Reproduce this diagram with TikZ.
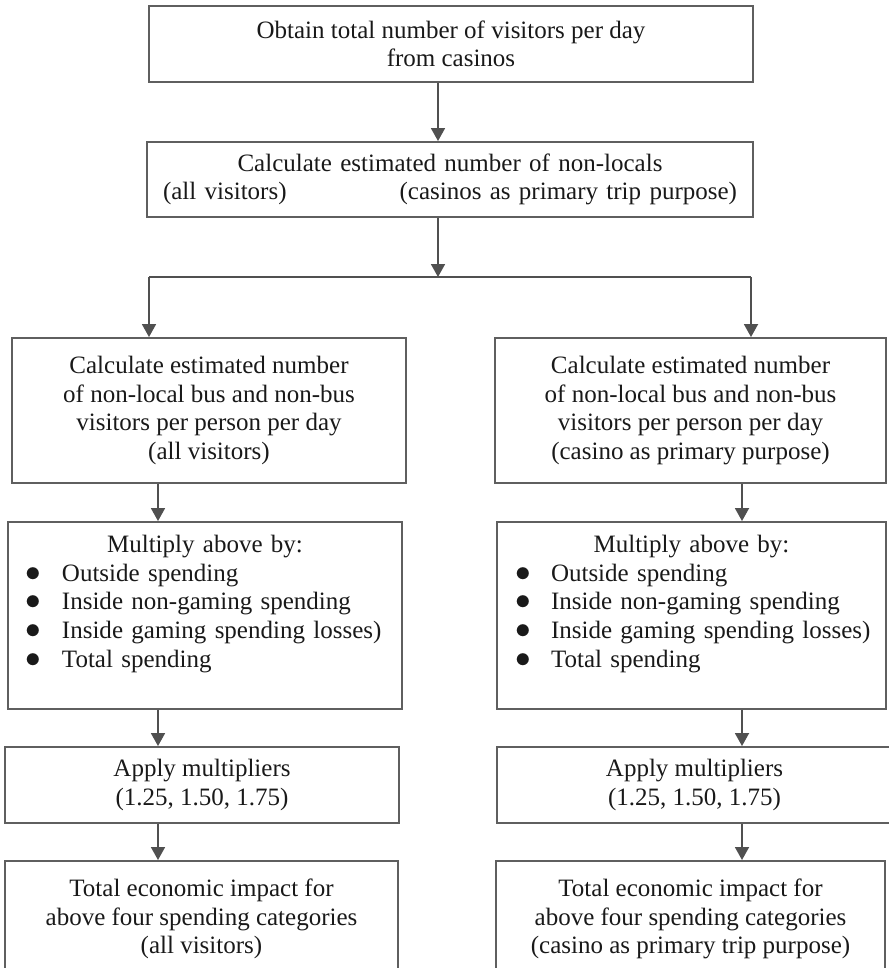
\documentclass[tikz,border=0pt]{standalone}
\usepackage{amssymb}
\usepackage{graphicx}
\usepackage{fontspec}
\setmainfont{Liberation Serif}
\usepackage{tikz}
\usetikzlibrary{arrows.meta}

\definecolor{linegray}{RGB}{95,95,95}
\definecolor{arrowgray}{RGB}{80,80,80}
\definecolor{inkgray}{RGB}{25,25,25}
\newcommand{\boxfont}{\fontsize{12.5pt}{14.3pt}\selectfont}
\newcommand{\blt}[1]{\makebox[\linewidth][l]{\hspace*{1pt}\makebox[18pt][l]{\scalebox{1.3}{$\bullet$}}#1}}

\tikzset{
  box/.style={draw=linegray, line width=0.95pt, inner xsep=8pt, inner ysep=3pt,
    align=center, text=inkgray, font=\boxfont},
  arr/.style={draw=arrowgray, line width=0.9pt, -{Triangle[width=7pt,length=6.5pt]}},
  link/.style={draw=arrowgray, line width=0.9pt}
}

\begin{document}
\begin{tikzpicture}[x=0.5pt, y=-0.5pt]
  	\useasboundingbox (0, 0) rectangle (888, 968);
  	\node (obtain) at (451, 44) [box, minimum width=302pt, minimum height=38pt]
  	  {Obtain total number of visitors per day\\ from casinos};
  	\node (locals) at (450, 179.5) [box, text width=287pt, minimum height=37.5pt]
  	  {Calculate estimated number of non-locals\\ (all visitors)\hfill(casinos as primary trip purpose)};

  	\node (bus1) at (209, 410.5) [box, minimum width=197pt, minimum height=72.5pt]
  	  {Calculate estimated number\\ of non-local bus and non-bus\\ visitors per person per day\\ (all visitors)};
  	\node (bus2) at (690.5, 410.5) [box, minimum width=195.5pt, minimum height=72.5pt]
  	  {Calculate estimated number\\ of non-local bus and non-bus\\ visitors per person per day\\ (casino as primary purpose)};

  	\node (mult1) at (205, 615.5) [box, text width=181pt, minimum height=93.5pt]
  	  {Multiply above by:\\ \blt{Outside spending}\\ \blt{Inside non-gaming spending}\\
  	   \blt{Inside gaming spending losses)}\\ \blt{Total spending}\\ \mbox{}};
  	\node (mult2) at (691.5, 615.5) [box, text width=178.5pt, minimum height=93.5pt]
  	  {Multiply above by:\\ \blt{Outside spending}\\ \blt{Inside non-gaming spending}\\
  	   \blt{Inside gaming spending losses)}\\ \blt{Total spending}\\ \mbox{}};

  	\node (apply1) at (202, 785) [box, minimum width=197pt, minimum height=38pt]
  	  {Apply multipliers\\ (1.25, 1.50, 1.75)};
  	\node (apply2) at (694.5, 785) [box, minimum width=197.5pt, minimum height=38pt]
  	  {Apply multipliers\\ (1.25, 1.50, 1.75)};

  	\node (total1) at (201.5, 860) [box, anchor=north, minimum width=196.5pt, minimum height=58pt]
  	  {Total economic impact for\\ above four spending categories\\ (all visitors)};
  	\node (total2) at (690.5, 860) [box, anchor=north, minimum width=194.5pt, minimum height=58pt]
  	  {Total economic impact for\\ above four spending categories\\ (casino as primary trip purpose)};

  	\coordinate (mid) at (438, 0);
  	\coordinate (sl) at (149, 277);
  	\coordinate (sr) at (751, 277);
  	\coordinate (lx) at (158, 0);
  	\coordinate (rx) at (742, 0);

  	\draw[arr] (mid |- obtain.south) -- (mid |- locals.north);
  	\draw[arr] (mid |- locals.south) -- (mid |- sl);
  	\draw[link] (sl) -- (sr);
  	\draw[arr] (sl) -- (sl |- bus1.north);
  	\draw[arr] (sr) -- (sr |- bus2.north);
  	\draw[arr] (lx |- bus1.south) -- (lx |- mult1.north);
  	\draw[arr] (rx |- bus2.south) -- (rx |- mult2.north);
  	\draw[arr] (lx |- mult1.south) -- (lx |- apply1.north);
  	\draw[arr] (rx |- mult2.south) -- (rx |- apply2.north);
  	\draw[arr] (lx |- apply1.south) -- (lx |- total1.north);
  	\draw[arr] (rx |- apply2.south) -- (rx |- total2.north);
  \end{tikzpicture}
\end{document}
